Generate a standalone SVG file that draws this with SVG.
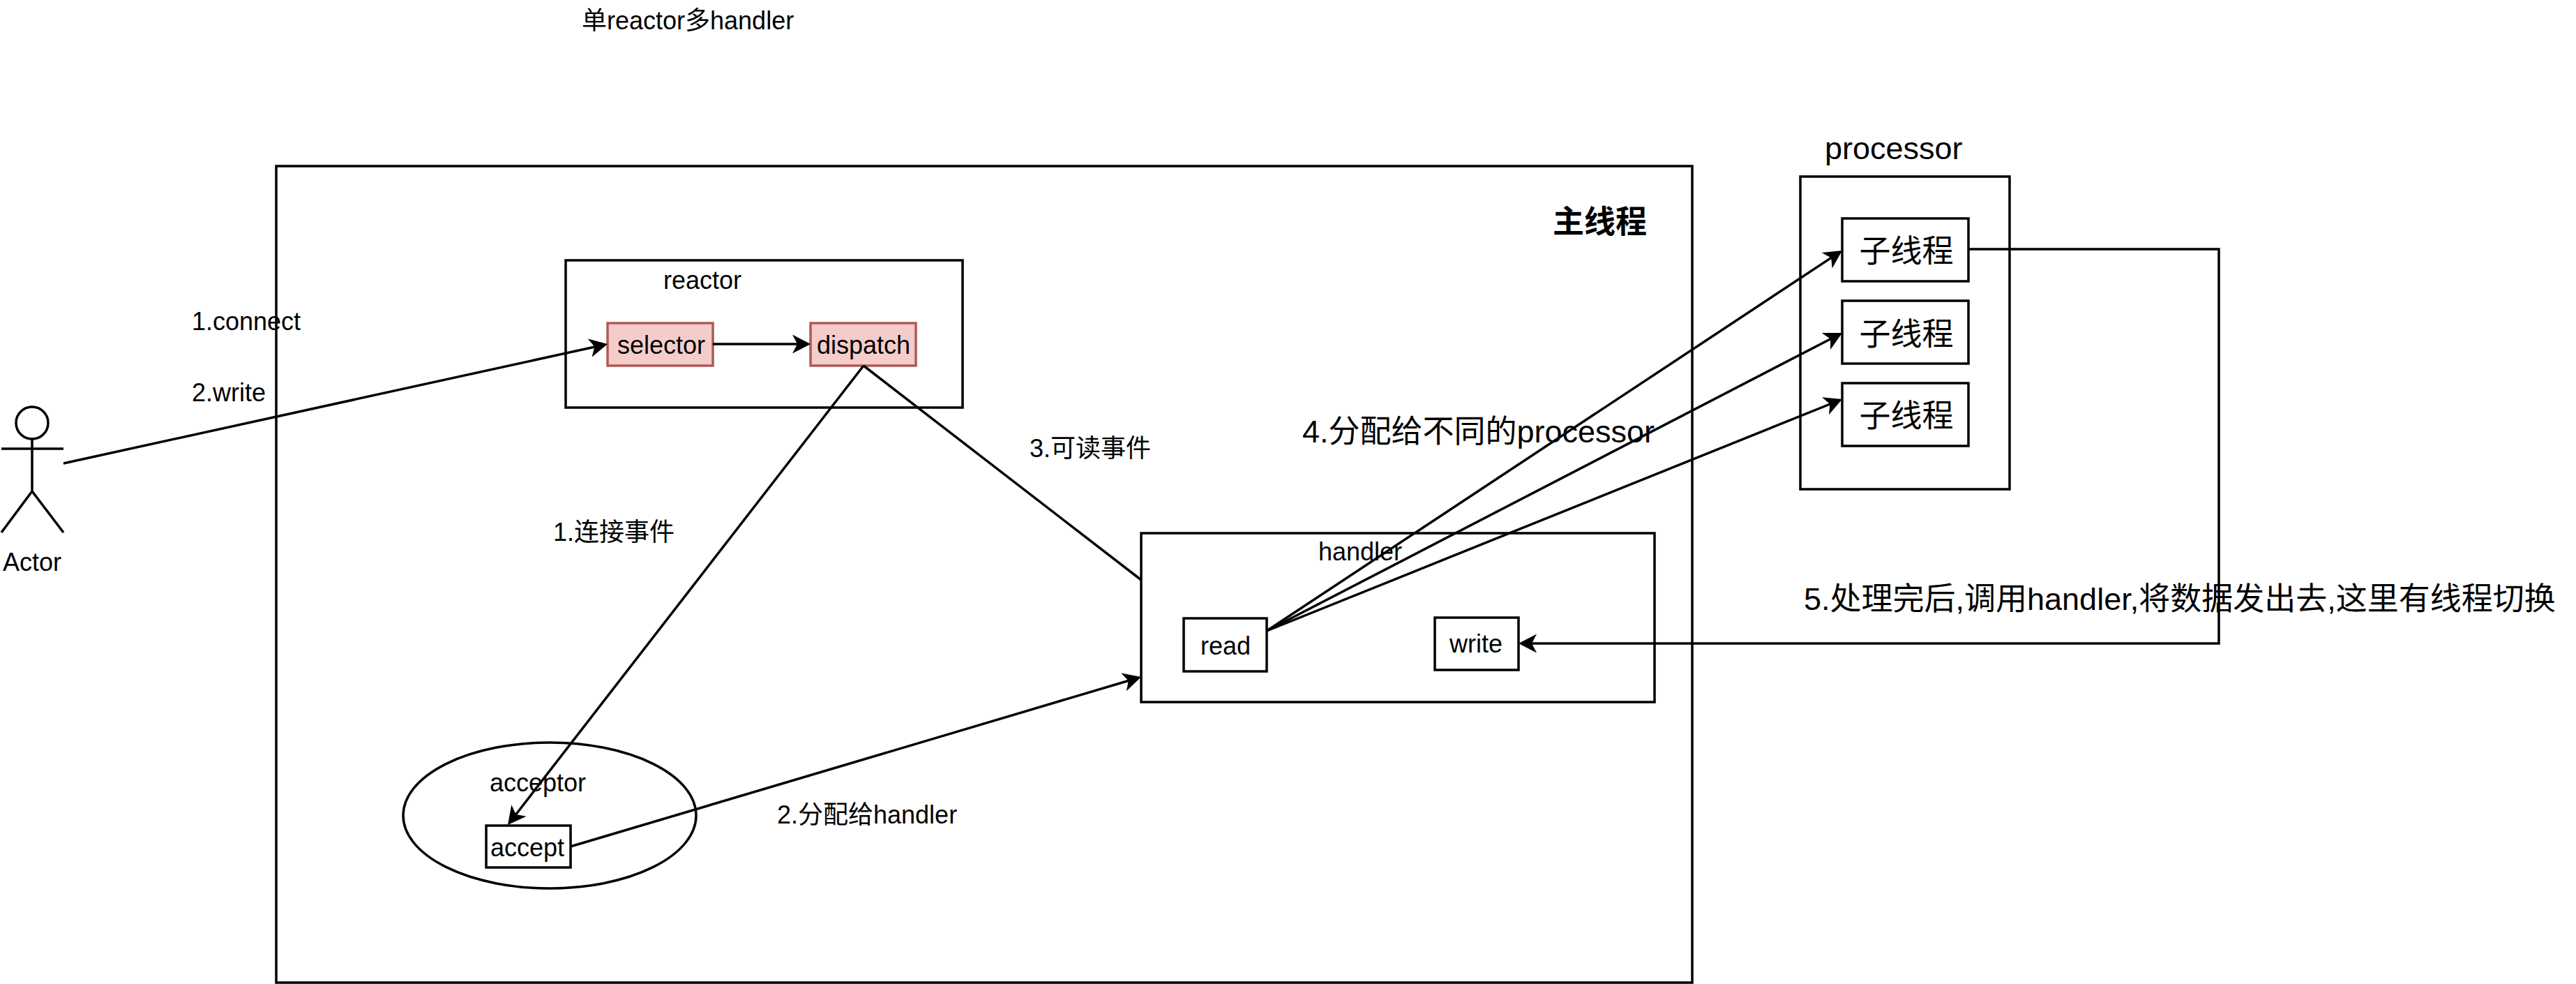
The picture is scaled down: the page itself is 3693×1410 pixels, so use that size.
<svg xmlns="http://www.w3.org/2000/svg" width="3693" height="1410" viewBox="0 0 3693 1410">
<defs>
<style>
text{font-family:"Liberation Sans","Noto Sans CJK SC",sans-serif;font-size:36px;fill:#000}
.b{font-size:45px}
.c{text-anchor:middle}
.s{fill:none;stroke:#000;stroke-width:3.5}
.w{fill:#fff;stroke:#000;stroke-width:3.5}
.r{fill:#f4cdcb;stroke:#ae5a55;stroke-width:3.5}
.l{fill:none;stroke:#000;stroke-width:3.5;marker-end:url(#a)}
.p{fill:none;stroke:#000;stroke-width:3.5}
</style>
<marker id="a" markerUnits="userSpaceOnUse" markerWidth="27" markerHeight="28" refX="18" refY="14" orient="auto" viewBox="0 0 27 28"><path d="M0,0.5 L26,14 L0,27.5 L7,14Z" fill="#000"/></marker>
</defs>
<rect width="3693" height="1410" fill="#fff"/>
<g id="main"><rect class="s" x="396" y="238" width="2030" height="1170"/><text class="b" x="2226" y="334" style="font-weight:bold">主线程</text></g>
<g id="reactor"><rect class="w" x="811" y="373" width="569" height="211"/><text x="951" y="414">reactor</text></g>
<g id="selector"><rect class="r" x="871" y="463" width="151" height="61"/><text class="c" x="948" y="507">selector</text></g>
<g id="dispatch"><rect class="r" x="1162" y="463" width="151" height="61"/><text class="c" x="1238" y="507">dispatch</text></g>
<g id="acceptor"><ellipse class="s" cx="788" cy="1168.500" rx="210" ry="104.500"/><text x="702" y="1134">acceptor</text></g>
<g id="accept"><rect class="w" x="697" y="1183" width="121" height="60"/><text class="c" x="756" y="1227">accept</text></g>
<g id="handler"><rect class="w" x="1636" y="764" width="736" height="242"/><text x="1890" y="803">handler</text></g>
<g id="read"><rect class="w" x="1697" y="886" width="119" height="76"/><text class="c" x="1757" y="938">read</text></g>
<g id="write"><rect class="w" x="2057" y="885" width="120" height="75"/><text class="c" x="2116" y="935">write</text></g>
<g id="processor"><rect class="s" x="2581" y="253" width="300" height="448"/><text class="b" x="2616" y="228">processor</text></g>
<g id="thread1"><rect class="w" x="2641" y="313" width="181" height="90"/><text class="b c" x="2733" y="376">子线程</text></g>
<g id="thread2"><rect class="w" x="2641" y="431" width="181" height="90"/><text class="b c" x="2733" y="495">子线程</text></g>
<g id="thread3"><rect class="w" x="2641" y="549" width="181" height="90"/><text class="b c" x="2733" y="612">子线程</text></g>
<g id="actor"><circle class="s" cx="46" cy="606" r="23"/><path class="s" d="M46,629V704M2,643H91M2,763L46,704L91,763"/><text class="c" x="46" y="818">Actor</text></g>
<g id="connectors">
<path class="l" d="M91,664L863.200,494.700"/>
<path class="l" d="M1022,493H1154"/>
<path class="l" d="M1238,524L732.900,1175.700"/>
<path class="p" d="M1238,524L1636,831"/>
<path class="l" d="M818,1213L1628.300,972.300"/>
<path class="l" d="M1816,904L2634.300,363.400"/>
<path class="l" d="M1816,904L2633.900,480.700"/>
<path class="l" d="M1816,904L2633.600,575"/>
<path class="l" d="M2822,357H3181V922H2185"/>
</g>
<g id="labels">
<text x="834" y="42">单reactor多handler</text>
<text x="275" y="473">1.connect</text>
<text x="275" y="575">2.write</text>
<text x="793" y="775">1.连接事件</text>
<text x="1476" y="655">3.可读事件</text>
<text x="1114" y="1180">2.分配给handler</text>
<text class="b" x="1867" y="634">4.分配给不同的processor</text>
<text class="b" x="2586" y="874">5.处理完后,调用handler,将数据发出去,这里有线程切换</text>
</g>
</svg>
